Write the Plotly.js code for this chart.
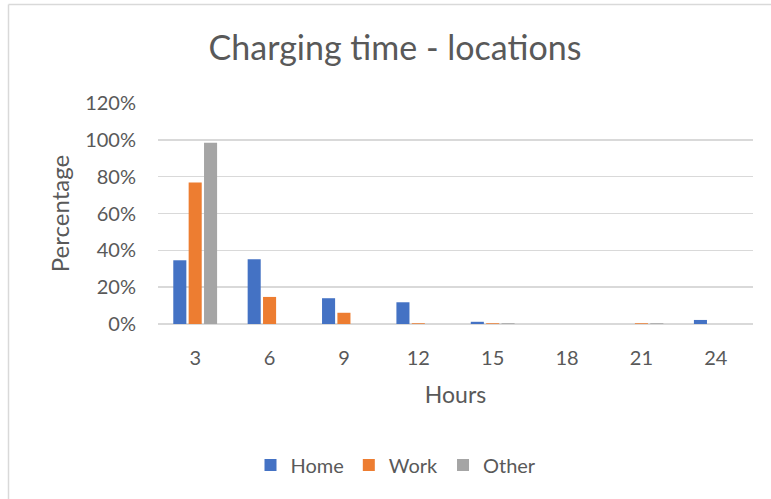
<!DOCTYPE html>
<html>
<head>
<meta charset="utf-8">
<script src="https://cdn.plot.ly/plotly-3.0.1.min.js"></script>
<style>
html,body{margin:0;padding:0;background:#fff;overflow:hidden;}
#chart{width:771px;height:499px;}
</style>
</head>
<body>
<div id="chart"></div>
<script>
var hours = ['3','6','9','12','15','18','21','24'];
var home  = [34.6, 35.1, 14.0, 11.8, 1.2, 0, 0, 2.2];
var work  = [76.9, 14.7, 6.1, 0.4, 0.4, 0, 0.4, 0];
var other = [98.4, 0, 0, 0, 0.4, 0, 0.4, 0];
var yTicks = [0, 20, 40, 60, 80, 100, 120];
var yTickLabels = ['0%', '20%', '40%', '60%', '80%', '100%', '120%'];

var FONT = 'Lato, "Open Sans", sans-serif';
var GREY = '#595959';

function series(name, vals, color) {
  return {
    type: 'bar', name: name, x: hours, y: vals,
    marker: {color: color, line: {color: '#ffffff', width: 0}},
    hoverinfo: 'x+y+name'
  };
}

var data = [
  series('Home', home, '#4472C4'),
  series('Work', work, '#ED7D31'),
  series('Other', other, '#A5A5A5')
];

var layout = {
  width: 771, height: 499,
  margin: {l: 158, r: 18, t: 103, b: 175},
  paper_bgcolor: '#ffffff', plot_bgcolor: '#ffffff',
  font: {family: FONT, color: GREY, size: 20},
  barmode: 'group', bargap: 0.38, bargroupgap: 0.15,
  showlegend: true,
  title: {
    text: 'Charging time - locations',
    font: {family: FONT, size: 34, color: GREY},
    x: 395/771, xanchor: 'center', xref: 'container',
    y: 1 - 48/499, yanchor: 'middle', yref: 'container'
  },
  xaxis: {
    type: 'category', showgrid: false, zeroline: false, showline: false,
    ticks: '', tickfont: {size: 20, color: GREY, family: FONT},
    ticklabelstandoff: 20,
    title: {text: 'Hours', font: {size: 23, color: GREY, family: FONT}, standoff: 18},
    automargin: false, fixedrange: true
  },
  yaxis: {
    range: [0, 120], tickvals: yTicks, ticktext: yTickLabels,
    showgrid: true, gridcolor: '#d9d9d9', gridwidth: 1.5,
    zeroline: true, zerolinecolor: '#d9d9d9', zerolinewidth: 1.5,
    showline: false, ticks: '',
    tickfont: {size: 20, color: GREY, family: FONT},
    ticklabelstandoff: 21,
    title: {text: 'Percentage', font: {size: 24, color: GREY, family: FONT}, standoff: 8},
    automargin: false, fixedrange: true
  },
  legend: {
    orientation: 'h', x: (396-158)/595, xanchor: 'center',
    y: (324-465)/221, yanchor: 'middle',
    font: {size: 20, color: GREY, family: FONT},
    itemwidth: 30, tracegroupgap: 0
  },
  shapes: [
    {type: 'line', xref: 'paper', yref: 'paper', x0: (8.5-158)/595, x1: (8.5-158)/595,
     y0: -2, y1: (324-4.5)/221, line: {color: '#d9d9d9', width: 1.5}, layer: 'below'},
    {type: 'line', xref: 'paper', yref: 'paper', x0: (8.5-158)/595, x1: 2,
     y0: (324-4.5)/221, y1: (324-4.5)/221, line: {color: '#d9d9d9', width: 1.5}, layer: 'below'}
  ]
};

Plotly.newPlot('chart', data, layout, {displayModeBar: false, staticPlot: true});
</script>
</body>
</html>
